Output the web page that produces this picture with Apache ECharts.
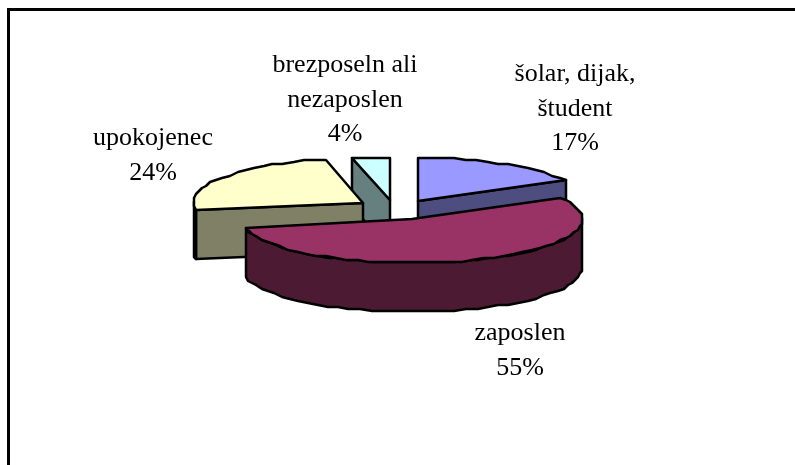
<!DOCTYPE html>
<html><head><meta charset="utf-8">
<style>html,body{margin:0;padding:0;background:#fff}#c{width:795px;height:465px}</style>
<script src="https://cdn.jsdelivr.net/npm/echarts@6/dist/echarts.min.js"></script>
</head><body><div id="c"></div>
<script>
const categories = ['šolar, dijak,\nštudent', 'zaposlen', 'upokojenec', 'brezposeln ali\nnezaposlen'];
const values = [17, 55, 24, 4];
const topColors = ['#9999FF', '#993366', '#FFFFCC', '#CCFFFF'];
const sideColors = ['#4D4D80', '#4D1A33', '#808066', '#668080'];
// exploded-slice placement: apex x, apex y, radius x, radius y, perspective turn in degrees
const placement = [[418, 201, 168, 43, 0], [412, 219, 170, 44, -1], [363, 203, 170, 45, 2], [390, 200, 155, 43, 0]];
const paintOrder = [30, 40, 20, 10];
const labelPos = [[575, 57], [520, 316], [153, 121], [345, 48]];
const depth = 49;

const total = values.reduce((a, b) => a + b, 0);
const chart = echarts.init(document.getElementById('c'), null, {renderer: 'canvas'});
const TAU = Math.PI * 2;
function arc(p, a0, a1) {
  const turn = p[4] / 360 * TAU;
  const n = Math.max(2, Math.round((a1 - a0) / (TAU / 90)));
  const pts = [];
  for (let i = 0; i <= n; i++) {
    const a = a0 + (a1 - a0) * i / n + turn;
    pts.push([Math.round((p[0] + p[2] * Math.sin(a)) / 2) * 2, Math.round((p[1] - p[3] * Math.cos(a)) / 2) * 2]);
  }
  return pts;
}
const faceStyle = (fill) => ({fill, stroke: '#000', lineWidth: 2.5, lineJoin: 'round'});
function renderItem(params, api) {
  const i = params.dataIndex;
  const v = api.value(0);
  const before = values.slice(0, i).reduce((a, b) => a + b, 0);
  const a0 = before / total * TAU, a1 = (before + v) / total * TAU;
  const p = placement[i];
  const apex = [p[0], p[1]];
  const rim = arc(p, a0, a1);
  const down = (q) => [q[0], q[1] + depth];
  const kids = [];
  const poly = (pts, fill, o) => kids.push({type: 'polygon', z2: paintOrder[i] + o, shape: {points: pts}, style: faceStyle(fill)});
  // radial faces that turn towards the viewer
  if (a0 > Math.PI) poly([apex, rim[0], down(rim[0]), down(apex)], sideColors[i], 0);
  const last = rim[rim.length - 1];
  if (a1 < Math.PI) poly([apex, last, down(last), down(apex)], sideColors[i], 0);
  // outer wall: only the front half of the ellipse is visible
  const f0 = Math.max(a0, Math.PI / 2), f1 = Math.min(a1, Math.PI * 1.5);
  if (f1 > f0) {
    const wall = arc(p, f0, f1);
    poly(wall.concat(wall.map(down).reverse()), sideColors[i], 1);
  }
  poly([apex].concat(rim), topColors[i], 2);
  const lp = labelPos[i];
  kids.push({type: 'text', z2: 60, style: {
    x: lp[0], y: lp[1], text: categories[i] + '\n' + Math.round(v / total * 100) + '%',
    align: 'center', verticalAlign: 'top', fill: '#000',
    font: '26px "Liberation Serif"', lineHeight: 34.5
  }});
  return {type: 'group', children: kids};
}
chart.setOption({
  animation: false,
  backgroundColor: '#fff',
  graphic: [
    {type: 'line', shape: {x1: 7, y1: 9.5, x2: 795, y2: 9.5}, style: {stroke: '#000', lineWidth: 3}},
    {type: 'line', shape: {x1: 8.5, y1: 8, x2: 8.5, y2: 465}, style: {stroke: '#000', lineWidth: 3}}
  ],
  series: [{
    type: 'custom', coordinateSystem: 'none', renderItem,
    data: values.map((v, i) => ({name: categories[i], value: [v]}))
  }]
});
</script></body></html>
